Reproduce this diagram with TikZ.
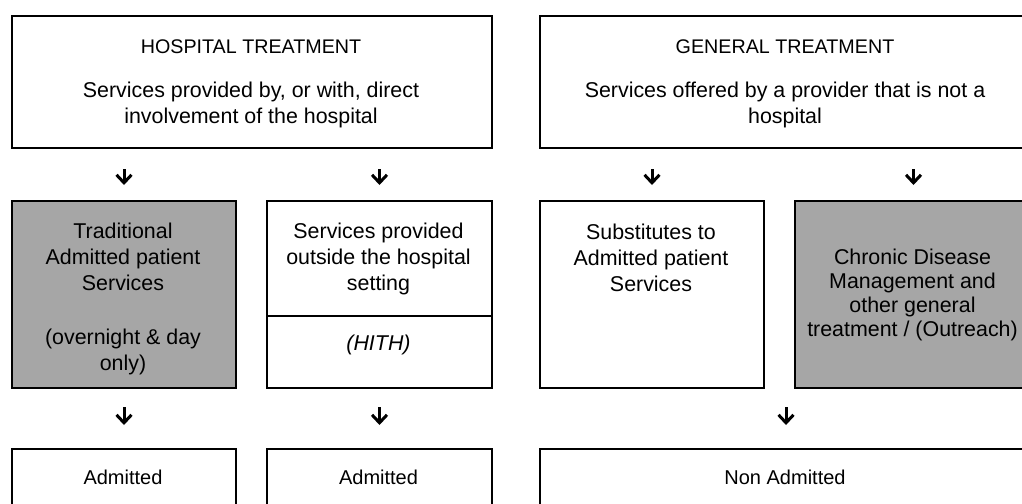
\documentclass[tikz,border=0pt]{standalone}
\usepackage{fontspec}
\setmainfont{Liberation Sans}
\usetikzlibrary{arrows.meta}
\newcommand\bodyfont{\fontsize{21.4}{26}\selectfont}
\newcommand\titlefont{\fontsize{19.7}{24}\selectfont}
\definecolor{boxgray}{RGB}{166,166,166}
\tikzset{
  box/.style={draw, line width=2pt, rectangle, inner sep=0pt, anchor=north west},
  shaded/.style={box, fill=boxgray},
  txt/.style={align=center, font=\bodyfont, inner sep=0pt, anchor=north},
  flow/.style={line width=3pt, -{Straight Barb[length=8pt,width=15pt]}},
}
\begin{document}
\begin{tikzpicture}[x=1pt,y=-1pt]
\useasboundingbox (0,0) rectangle (1022,503);
\clip (0,0) rectangle (1022,503);
% boxes
\node[box, minimum width=480pt, minimum height=132pt] (t1) at (11,15) {};
\node[box, minimum width=492pt, minimum height=132pt] (t2) at (539,15) {};
\node[shaded, minimum width=224pt, minimum height=187pt] (m1) at (11,200) {};
\node[box, minimum width=225pt, minimum height=115pt] (m2a) at (266,200) {};
\node[box, minimum width=225pt, minimum height=72pt] (m2b) at (266,315) {};
\node[box, minimum width=224pt, minimum height=187pt] (m3) at (539,200) {};
\node[shaded, minimum width=237pt, minimum height=187pt] (m4) at (794,200) {};
\node[box, minimum width=224pt, minimum height=120pt] (b1) at (11,448) {};
\node[box, minimum width=225pt, minimum height=120pt] (b2) at (266,448) {};
\node[box, minimum width=492pt, minimum height=120pt] (b3) at (539,448) {};
% texts
\node[txt] (t1t) at (251,40) {{\titlefont HOSPITAL TREATMENT}\\[18pt]\fontsize{21.4}{25}\selectfont Services provided by, or with, direct\\involvement of the hospital};
\node[txt] (t2t) at (785,40) {{\titlefont GENERAL TREATMENT}\\[18pt]\fontsize{21.4}{25}\selectfont Services offered by a provider that is not a\\hospital};
\node[txt] (m1t) at (123,223) {Traditional\\Admitted patient\\Services\\[28pt](overnight \& day\\only)};
\node[txt] (m2at) at (378.5,223) {Services provided\\outside the hospital\\setting};
\node[txt, anchor=center] (m2bt) at (378.5,345) {\itshape (HITH)};
\node[txt] (m3t) at (651,224) {Substitutes to\\Admitted patient\\Services};
\node[txt, font=\fontsize{21.4}{24}\selectfont] (m4t) at (912.5,249) {Chronic Disease\\Management and\\other general\\treatment / (Outreach)};
\node[txt, font=\fontsize{20}{24}\selectfont] (b1t) at (123,470) {Admitted};
\node[txt, font=\fontsize{20}{24}\selectfont] (b2t) at (378.5,470) {Admitted};
\node[txt, font=\fontsize{20}{24}\selectfont] (b3t) at (785,470) {Non Admitted};
% arrows
\draw[flow, shorten <=20pt, shorten >=15pt] (m1.north |- t1.south) -- (m1.north);
\draw[flow, shorten <=20pt, shorten >=15pt] (m2a.north |- t1.south) -- (m2a.north);
\draw[flow, shorten <=20pt, shorten >=15pt] (m3.north |- t2.south) -- (m3.north);
\draw[flow, shorten <=20pt, shorten >=15pt] (m4.north |- t2.south) -- (m4.north);
\draw[flow, shorten <=18pt, shorten >=23pt] (m1.south) -- (b1.north);
\draw[flow, shorten <=18pt, shorten >=23pt] (m2b.south) -- (b2.north);
\draw[flow, shorten <=18pt, shorten >=23pt] (b3.north |- m3.south) -- (b3.north);
\end{tikzpicture}
\end{document}
